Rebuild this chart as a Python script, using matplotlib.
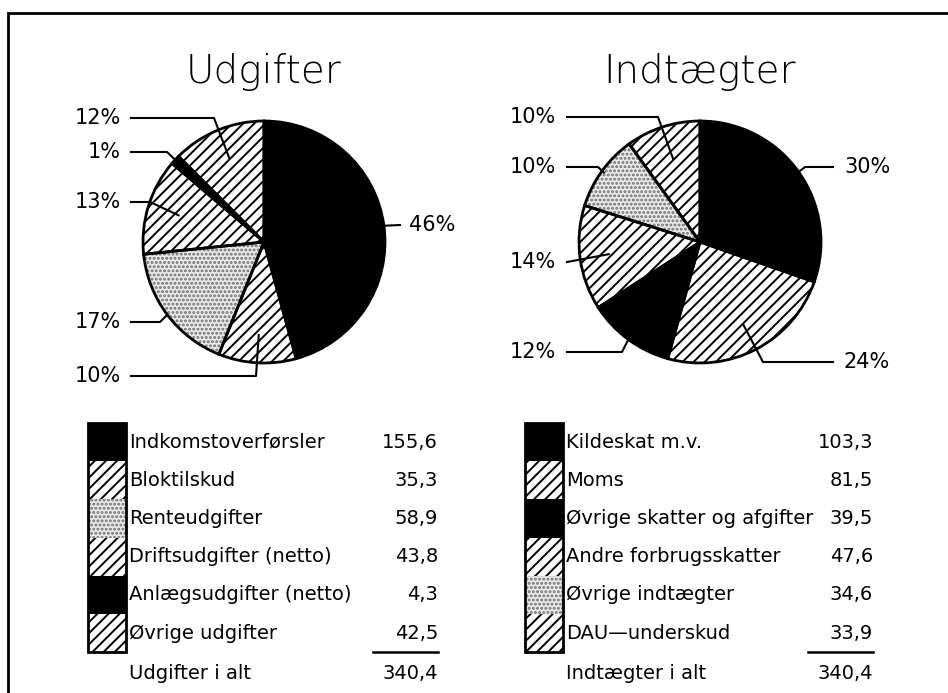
import numpy as np
import matplotlib.pyplot as plt
from matplotlib.patches import Rectangle

plt.rcParams['font.family'] = ['DejaVu Sans']
plt.rcParams['hatch.linewidth'] = 1.4

W, H = 948, 693

# data
udg_labels = ['Indkomstoverførsler', 'Bloktilskud', 'Renteudgifter',
              'Driftsudgifter (netto)', 'Anlægsudgifter (netto)', 'Øvrige udgifter']
udg_values = [155.6, 35.3, 58.9, 43.8, 4.3, 42.5]
ind_labels = ['Kildeskat m.v.', 'Moms', 'Øvrige skatter og afgifter',
              'Andre forbrugsskatter', 'Øvrige indtægter', 'DAU\u2014underskud']
ind_values = [103.3, 81.5, 39.5, 47.6, 34.6, 33.9]

# fill styles per slice
udg_fills = ['solid', 'hatch', 'dots', 'hatch', 'solid', 'hatch']
ind_fills = ['solid', 'hatch', 'solid', 'hatch', 'dots', 'hatch']
FILL = {
    'solid': dict(facecolor='black', hatch=None, edgecolor='black'),
    'hatch': dict(facecolor='white', hatch='///', edgecolor='black'),
    'dots': dict(facecolor='#e9e9e9', hatch='....', edgecolor='#6e6e6e'),
}

# leader layout per slice: (side, text y, elbow x, radius fraction)
udg_leader = [('right', 225, None, 1.0), ('left', 376, 256, 0.77),
              ('left', 322, 160, 1.0), ('left', 202, 150, 0.74),
              ('left', 152, 167, 1.0), ('left', 118, 214, 0.75)]
ind_leader = [('right', 167, 805, 1.0), ('right', 362, 763, 0.77),
              ('left', 352, 622, 1.0), ('left', 262, None, 0.76),
              ('left', 167, 598, 0.98), ('left', 117, 658, 0.72)]

R = 121


def fmt(v):
    return f'{v:.1f}'.replace('.', ',')


def draw_pie(ax, values, fills, cx, cy, leaders, xs):
    styles = [FILL[f] for f in fills]
    center = (cx, H - cy)
    wedges, _ = ax.pie(values, startangle=90, counterclock=False, center=center, radius=R,
                       colors=[s['facecolor'] for s in styles],
                       hatch=[s['hatch'] for s in styles],
                       wedgeprops=dict(linewidth=0))
    for w, s in zip(wedges, styles):
        w.set_edgecolor(s['edgecolor'])
        w.set_linewidth(0)
    ax.pie(values, startangle=90, counterclock=False, center=center, radius=R,
           wedgeprops=dict(fill=False, edgecolor='black', linewidth=2))
    total = sum(values)
    lt, ll, rt, rl = xs
    for w, v, (side, ty, ex, rf) in zip(wedges, values, leaders):
        a = np.deg2rad((w.theta1 + w.theta2) / 2)
        px = cx + rf * R * np.cos(a)
        py = H - cy + rf * R * np.sin(a)
        y = H - ty
        x0 = ll if side == 'left' else rl
        xs_line = [x0] + ([ex] if ex is not None else []) + [px]
        ys_line = [y] + ([y] if ex is not None else []) + [py]
        ax.plot(xs_line, ys_line, color='black', lw=1.5)
        pct = f'{round(100 * v / total):d}%'
        if side == 'left':
            ax.text(lt, y, pct, ha='right', va='center', fontsize=15)
        else:
            ax.text(rt, y, pct, ha='left', va='center', fontsize=15)


def draw_table(ax, labels, values, fills, total_label, x_sw, x_lab, x_val):
    y_top, row_h, sw_w = 423, 38.2, 38
    for i, (lab, v, f) in enumerate(zip(labels, values, fills)):
        s = FILL[f]
        ax.add_patch(Rectangle((x_sw, H - y_top - (i + 1) * row_h), sw_w, row_h,
                               facecolor=s['facecolor'], hatch=s['hatch'],
                               edgecolor=s['edgecolor'], linewidth=0))
        yc = H - y_top - (i + 0.5) * row_h
        ax.text(x_lab, yc, lab, ha='left', va='center', fontsize=14)
        ax.text(x_val, yc, fmt(v), ha='right', va='center', fontsize=14)
    ax.add_patch(Rectangle((x_sw, H - y_top - 6 * row_h), sw_w, 6 * row_h,
                           fill=False, edgecolor='black', linewidth=2))
    yl = H - y_top - 6 * row_h
    ax.plot([x_val - 65, x_val], [yl, yl], color='black', lw=1.8)
    ax.text(x_lab, yl - 21, total_label, ha='left', va='center', fontsize=14)
    ax.text(x_val, yl - 21, fmt(sum(values)), ha='right', va='center', fontsize=14)


fig = plt.figure(figsize=(9.48, 6.93), dpi=100)
ax = fig.add_axes([0, 0, 1, 1])

draw_pie(ax, udg_values, udg_fills, 264, 242, udg_leader, (121, 131, 409, 400))
draw_pie(ax, ind_values, ind_fills, 700, 242, ind_leader, (556, 567, 844, 833))

ax.text(264, H - 72, 'Udgifter', ha='center', va='center', fontsize=28, fontweight='light')
ax.text(700, H - 72, 'Indtægter', ha='center', va='center', fontsize=28, fontweight='light')

draw_table(ax, udg_labels, udg_values, udg_fills, 'Udgifter i alt', 88, 129, 438)
draw_table(ax, ind_labels, ind_values, ind_fills, 'Indtægter i alt', 525, 566, 873)

ax.add_patch(Rectangle((8, -20), 980, H - 13 + 20, fill=False, edgecolor='black', linewidth=2))

ax.set_xlim(0, W)
ax.set_ylim(0, H)
ax.axis('off')

fig.savefig('out.png', dpi=100)
